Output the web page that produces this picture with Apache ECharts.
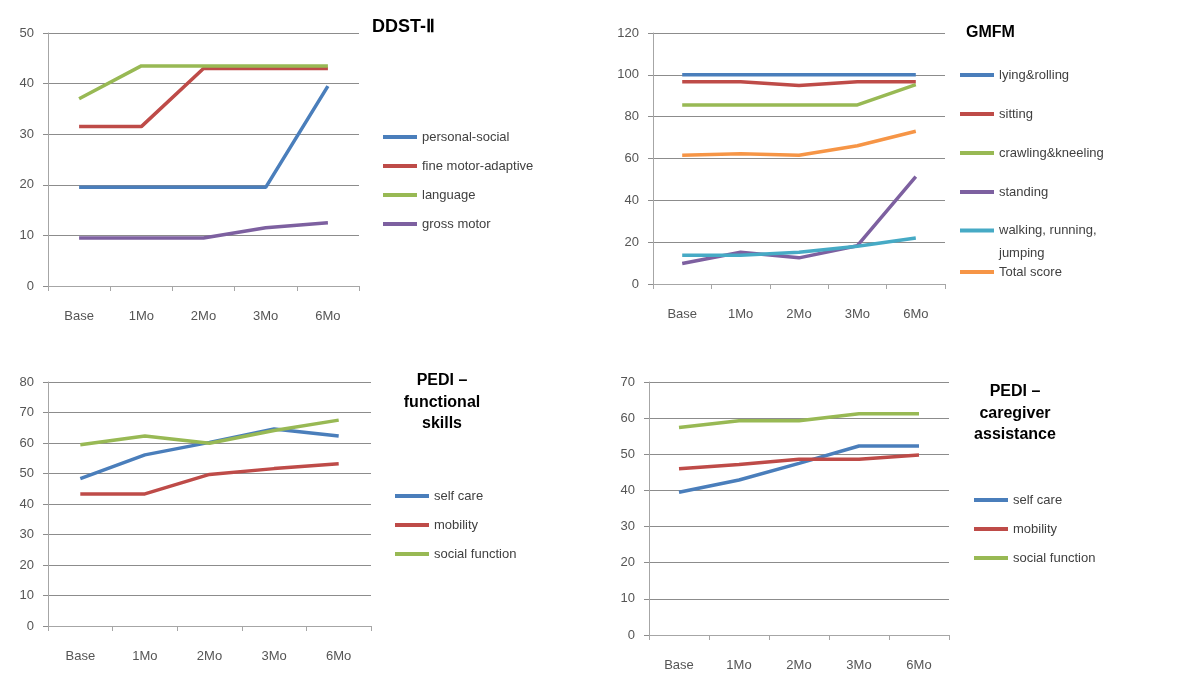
<!DOCTYPE html>
<html>
<head>
<meta charset="utf-8">
<script src="https://cdn.jsdelivr.net/npm/echarts@6/dist/echarts.min.js"></script>
<style>
html,body{margin:0;padding:0;background:#fff;}
#c{width:1200px;height:699px;}
</style>
</head>
<body>
<div id="c"></div>
<script>
const categories = ['Base', '1Mo', '2Mo', '3Mo', '6Mo'];

// DDST-II
const ddstNames = ['personal-social', 'fine motor-adaptive', 'language', 'gross motor'];
const ddstPersonalSocial = [19.5, 19.5, 19.5, 19.5, 39.5];
const ddstFineMotor = [31.5, 31.5, 43, 43, 43];
const ddstLanguage = [37, 43.5, 43.5, 43.5, 43.5];
const ddstGrossMotor = [9.5, 9.5, 9.5, 11.5, 12.5];

// GMFM
const gmfmNames = ['lying&rolling', 'sitting', 'crawling&kneeling', 'standing', 'walking, running, jumping', 'Total score'];
const gmfmLying = [100, 100, 100, 100, 100];
const gmfmSitting = [96.7, 96.7, 94.9, 96.7, 96.7];
const gmfmCrawling = [85.6, 85.6, 85.6, 85.6, 95.3];
const gmfmStanding = [9.8, 15.2, 12.5, 18.3, 51.3];
const gmfmWalking = [13.7, 13.7, 15.2, 18, 22];
const gmfmTotal = [61.5, 62.3, 61.6, 66.1, 73];

// PEDI functional skills
const pediFsNames = ['self care', 'mobility', 'social function'];
const pediFsSelfCare = [48.3, 56.1, 60.2, 64.6, 62.3];
const pediFsMobility = [43.3, 43.3, 49.7, 51.6, 53.2];
const pediFsSocial = [59.4, 62.3, 59.9, 64.1, 67.5];

// PEDI caregiver assistance
const pediCaNames = ['self care', 'mobility', 'social function'];
const pediCaSelfCare = [39.5, 42.9, 47.5, 52.3, 52.3];
const pediCaMobility = [46, 47.2, 48.6, 48.6, 49.8];
const pediCaSocial = [57.4, 59.3, 59.3, 61.2, 61.2];

const C = {blue:'#4a7ebb', red:'#be4b48', green:'#98b954', purple:'#7d60a0', aqua:'#46aac5', orange:'#f69546'};
const FONT = 'Liberation Sans, Arial, sans-serif';
const labelColor = '#555';
const axisGray = '#a6a6a6';
const gridGray = '#8c8c8c';

const grids = [
  {left:48, top:33, width:311, height:253},
  {left:653, top:33, width:292, height:251},
  {left:48, top:382, width:323, height:244},
  {left:649, top:382, width:300, height:253}
];
const yRanges = [[0,50,10],[0,120,20],[0,80,10],[0,70,10]];

const xAxes = grids.map((g,i)=>({
  type:'category', gridIndex:i, data:categories, boundaryGap:true,
  axisLine:{show:true, lineStyle:{color:axisGray, width:1}},
  axisTick:{show:true, length:5, lineStyle:{color:axisGray}},
  axisLabel:{color:labelColor, fontFamily:FONT, fontSize:13, margin:24},
  splitLine:{show:false}
}));
const yAxes = yRanges.map((r,i)=>({
  type:'value', gridIndex:i, min:r[0], max:r[1], interval:r[2],
  axisLine:{show:true, lineStyle:{color:axisGray, width:1}},
  axisTick:{show:true, length:5, lineStyle:{color:gridGray}},
  axisLabel:{color:labelColor, fontFamily:FONT, fontSize:13, margin:14},
  splitLine:{show:true, lineStyle:{color:gridGray, width:1}}
}));

function line(name, data, color, idx){
  return {type:'line', name, data, xAxisIndex:idx, yAxisIndex:idx, symbol:'none',
    lineStyle:{width:3.5, color}, itemStyle:{color}, animation:false, z:3};
}

const series = [
  line(ddstNames[0], ddstPersonalSocial, C.blue, 0),
  line(ddstNames[1], ddstFineMotor, C.red, 0),
  line(ddstNames[2], ddstLanguage, C.green, 0),
  line(ddstNames[3], ddstGrossMotor, C.purple, 0),
  line(gmfmNames[0], gmfmLying, C.blue, 1),
  line(gmfmNames[1], gmfmSitting, C.red, 1),
  line(gmfmNames[2], gmfmCrawling, C.green, 1),
  line(gmfmNames[3], gmfmStanding, C.purple, 1),
  line(gmfmNames[4], gmfmWalking, C.aqua, 1),
  line(gmfmNames[5], gmfmTotal, C.orange, 1),
  line('PF ' + pediFsNames[0], pediFsSelfCare, C.blue, 2),
  line('PF ' + pediFsNames[1], pediFsMobility, C.red, 2),
  line('PF ' + pediFsNames[2], pediFsSocial, C.green, 2),
  line('PC ' + pediCaNames[0], pediCaSelfCare, C.blue, 3),
  line('PC ' + pediCaNames[1], pediCaMobility, C.red, 3),
  line('PC ' + pediCaNames[2], pediCaSocial, C.green, 3)
];

const legendBase = {
  orient:'vertical', icon:'rect', itemWidth:34, itemHeight:4, padding:0,
  selectedMode:false,
  textStyle:{color:'#404040', fontFamily:FONT, fontSize:13, lineHeight:14}
};
const stripPrefix = n => n.replace(/^P[FC] /, '');
const legends = [
  Object.assign({}, legendBase, {left:383, top:130, itemGap:15, data:ddstNames}),
  Object.assign({}, legendBase, {left:960, top:68, itemGap:25, data:gmfmNames.slice(0,4)}),
  Object.assign({}, legendBase, {left:960, top:224, data:[gmfmNames[4]],
    formatter: () => '{a|walking, running,}\n{b|jumping}',
    textStyle:{color:'#404040', fontFamily:FONT, fontSize:13,
      rich:{
        a:{color:'#404040', fontFamily:FONT, fontSize:13, padding:[33,0,0,0]},
        b:{color:'#404040', fontFamily:FONT, fontSize:13, lineHeight:33}
      }}}),
  Object.assign({}, legendBase, {left:960, top:265, data:[gmfmNames[5]]}),
  Object.assign({}, legendBase, {left:395, top:489, itemGap:15, data:pediFsNames.map(n=>'PF '+n), formatter:stripPrefix}),
  Object.assign({}, legendBase, {left:974, top:493, itemGap:15, data:pediCaNames.map(n=>'PC '+n), formatter:stripPrefix})
];

const titleStyle = {color:'#000', fontFamily:FONT, fontSize:16, fontWeight:'bold', lineHeight:21.5};
const titles = [
  {text:'DDST-Ⅱ', left:372, top:16, padding:0, textStyle:Object.assign({}, titleStyle, {fontSize:18})},
  {text:'GMFM', left:966, top:22, padding:0, textStyle:titleStyle},
  {text:'PEDI –\nfunctional\nskills', left:442, top:370, padding:0, textAlign:'center', textStyle:titleStyle},
  {text:'PEDI –\ncaregiver\nassistance', left:1015, top:381, padding:0, textAlign:'center', textStyle:titleStyle}
];

const chart = echarts.init(document.getElementById('c'), null, {renderer:'canvas'});
chart.setOption({
  animation:false,
  backgroundColor:'#fff',
  title:titles,
  grid:grids,
  xAxis:xAxes,
  yAxis:yAxes,
  legend:legends,
  series
});
</script>
</body>
</html>
